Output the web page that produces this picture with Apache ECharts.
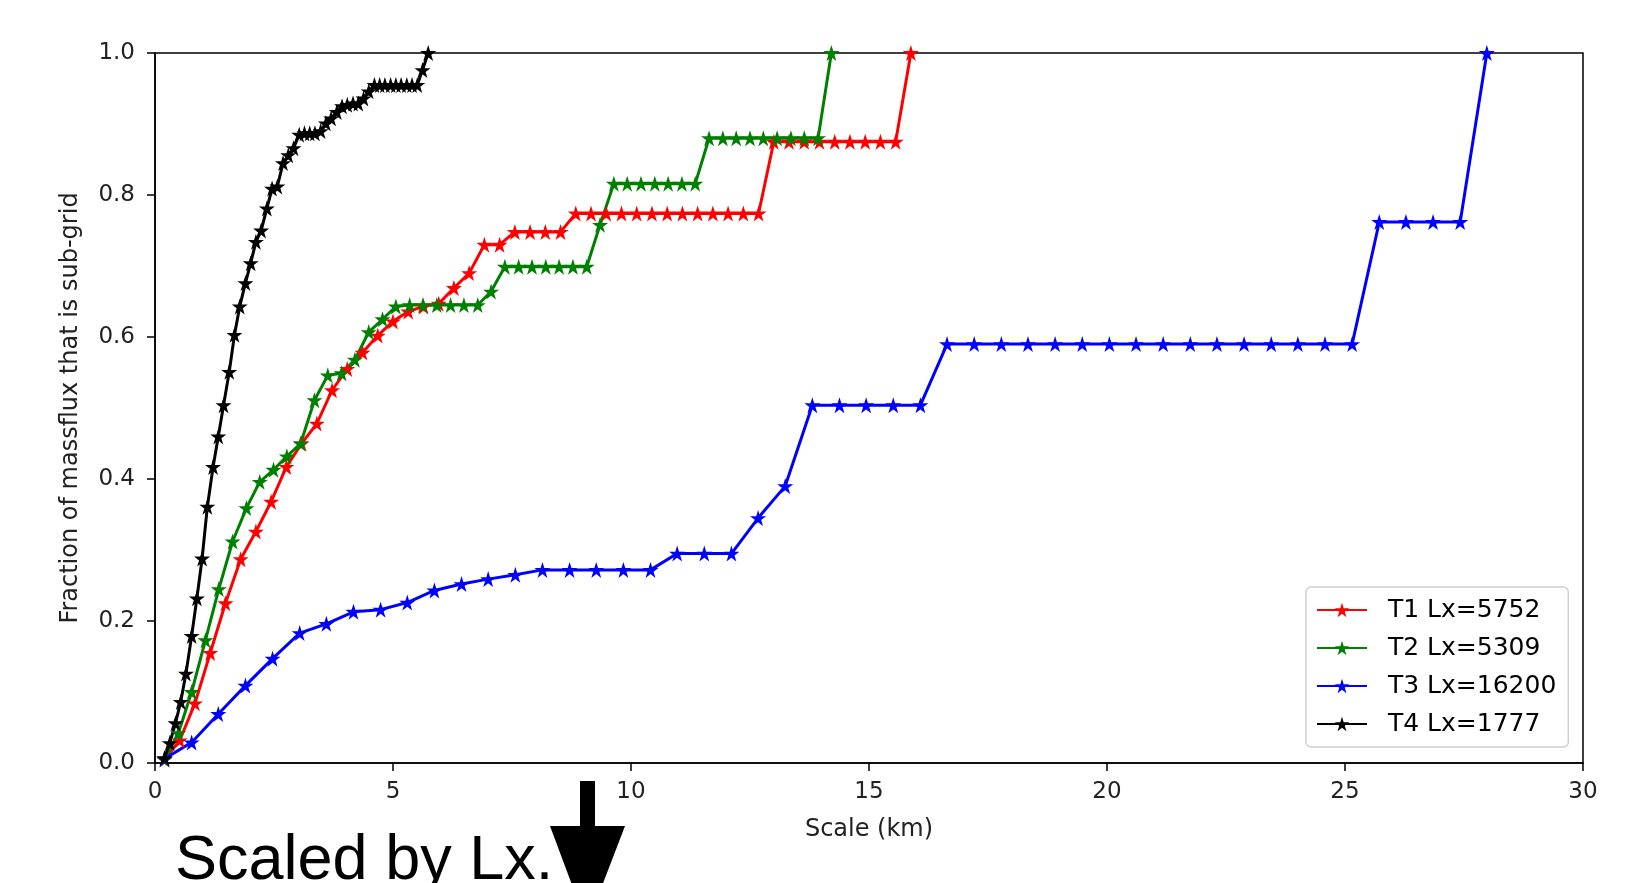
<!DOCTYPE html>
<html>
<head>
<meta charset="utf-8">
<script src="https://cdn.jsdelivr.net/npm/echarts@6/dist/echarts.min.js"></script>
<style>
  html, body { margin: 0; padding: 0; background: #fff; }
  #main { width: 1635px; height: 883px; }
</style>
</head>
<body>
<div id="main"></div>
<script>
// x-axis and y-axis ticks
const xTicks = [0, 5, 10, 15, 20, 25, 30];
const yTicks = [0.0, 0.2, 0.4, 0.6, 0.8, 1.0];

const seriesNames = ['T1 Lx=5752', 'T2 Lx=5309', 'T3 Lx=16200', 'T4 Lx=1777'];
const seriesColors = ['#ff0000', '#008000', '#0000ff', '#000000'];

// T1 (red)
const t1X = [0.20, 0.52, 0.84, 1.16, 1.48, 1.80, 2.12, 2.44, 2.76, 3.08,
  3.40, 3.72, 4.04, 4.36, 4.68, 5.00, 5.32, 5.64, 5.96, 6.28,
  6.60, 6.92, 7.24, 7.56, 7.88, 8.20, 8.52, 8.84, 9.16, 9.48,
  9.80, 10.12, 10.44, 10.76, 11.08, 11.40, 11.72, 12.04, 12.36, 12.68,
  13.00, 13.32, 13.64, 13.96, 14.28, 14.60, 14.92, 15.24, 15.56, 15.88];
const t1Y = [0.005, 0.032, 0.084, 0.155, 0.225, 0.287, 0.326, 0.368, 0.417, 0.450,
  0.478, 0.525, 0.555, 0.578, 0.602, 0.622, 0.636, 0.643, 0.647, 0.669,
  0.690, 0.730, 0.730, 0.748, 0.748, 0.748, 0.748, 0.774, 0.774, 0.774,
  0.774, 0.774, 0.774, 0.774, 0.774, 0.774, 0.774, 0.774, 0.774, 0.774,
  0.875, 0.875, 0.875, 0.875, 0.875, 0.875, 0.875, 0.875, 0.875, 1.0];

// T2 (green)
const t2X = [0.20, 0.49, 0.77, 1.06, 1.34, 1.63, 1.92, 2.20, 2.49, 2.77,
  3.06, 3.35, 3.63, 3.92, 4.20, 4.49, 4.78, 5.06, 5.35, 5.63,
  5.92, 6.21, 6.49, 6.78, 7.06, 7.35, 7.64, 7.92, 8.21, 8.49,
  8.78, 9.07, 9.35, 9.64, 9.92, 10.21, 10.50, 10.78, 11.07, 11.35,
  11.64, 11.93, 12.21, 12.50, 12.78, 13.07, 13.36, 13.64, 13.93, 14.21];
const t2Y = [0.005, 0.042, 0.100, 0.173, 0.245, 0.312, 0.359, 0.396, 0.413, 0.432,
  0.450, 0.511, 0.546, 0.549, 0.568, 0.607, 0.625, 0.643, 0.645, 0.645,
  0.645, 0.645, 0.645, 0.645, 0.664, 0.699, 0.699, 0.699, 0.699, 0.699,
  0.699, 0.699, 0.758, 0.816, 0.816, 0.816, 0.816, 0.816, 0.816, 0.816,
  0.880, 0.880, 0.880, 0.880, 0.880, 0.880, 0.880, 0.880, 0.880, 1.0];

// T3 (blue)
const t3X = [0.20, 0.77, 1.33, 1.90, 2.47, 3.04, 3.60, 4.17, 4.74, 5.30,
  5.87, 6.44, 7.00, 7.57, 8.14, 8.71, 9.27, 9.84, 10.41, 10.97,
  11.54, 12.11, 12.67, 13.24, 13.81, 14.38, 14.94, 15.51, 16.08, 16.64,
  17.21, 17.78, 18.34, 18.91, 19.48, 20.05, 20.61, 21.18, 21.75, 22.31,
  22.88, 23.45, 24.01, 24.58, 25.15, 25.72, 26.28, 26.85, 27.42, 27.98];
const t3Y = [0.006, 0.029, 0.069, 0.109, 0.147, 0.183, 0.196, 0.213, 0.216, 0.226,
  0.243, 0.252, 0.259, 0.265, 0.272, 0.272, 0.272, 0.272, 0.272, 0.295,
  0.295, 0.295, 0.345, 0.390, 0.504, 0.504, 0.504, 0.504, 0.504, 0.590,
  0.590, 0.590, 0.590, 0.590, 0.590, 0.590, 0.590, 0.590, 0.590, 0.590,
  0.590, 0.590, 0.590, 0.590, 0.590, 0.762, 0.762, 0.762, 0.762, 1.0];

// T4 (black)
const t4X = [0.20, 0.31, 0.43, 0.54, 0.65, 0.77, 0.88, 0.99, 1.10, 1.22,
  1.33, 1.44, 1.56, 1.67, 1.78, 1.90, 2.01, 2.12, 2.23, 2.35,
  2.46, 2.57, 2.69, 2.80, 2.91, 3.03, 3.14, 3.25, 3.36, 3.48,
  3.59, 3.70, 3.82, 3.93, 4.04, 4.16, 4.27, 4.38, 4.49, 4.61,
  4.72, 4.83, 4.95, 5.06, 5.17, 5.29, 5.40, 5.51, 5.62, 5.74];
const t4Y = [0.007, 0.028, 0.056, 0.086, 0.126, 0.179, 0.232, 0.288, 0.361, 0.417,
  0.460, 0.504, 0.551, 0.603, 0.643, 0.676, 0.704, 0.734, 0.750, 0.781,
  0.809, 0.812, 0.845, 0.856, 0.866, 0.885, 0.887, 0.887, 0.887, 0.890,
  0.901, 0.908, 0.917, 0.925, 0.927, 0.929, 0.929, 0.936, 0.946, 0.955,
  0.955, 0.955, 0.955, 0.955, 0.955, 0.955, 0.955, 0.955, 0.976, 1.0];

const allX = [t1X, t2X, t3X, t4X];
const allY = [t1Y, t2Y, t3Y, t4Y];

// matplotlib-like '*' marker
const star = 'path://M50 0 L61.2 34.5 L97.6 34.5 L68.2 55.9 L79.4 90.5 L50 69.1 L20.6 90.5 L31.8 55.9 L2.4 34.5 L38.8 34.5 Z';

const font = 'DejaVu Sans';

const chart = echarts.init(document.getElementById('main'));

const series = seriesNames.map((name, i) => ({
  name: name,
  type: 'line',
  data: allX[i].map((x, j) => [x, allY[i][j]]),
  symbol: star,
  symbolSize: 16,
  showSymbol: true,
  lineStyle: { width: 3, color: seriesColors[i] },
  itemStyle: { color: seriesColors[i] },
  emphasis: { disabled: true },
  animation: false
}));

const option = {
  backgroundColor: '#fff',
  animation: false,
  grid: {
    left: 155, right: 52, top: 53, bottom: 120,
    show: true, borderColor: '#000', borderWidth: 1.5
  },
  legend: {
    orient: 'vertical',
    left: 1306, top: 587,
    padding: [9, 12, 9, 10],
    itemWidth: 50, itemHeight: 18, itemGap: 10,
    backgroundColor: 'rgba(255,255,255,0.8)',
    borderColor: '#d0d0d0', borderWidth: 1.5, borderRadius: 5,
    textStyle: { fontFamily: font, fontSize: 25, color: '#000', lineHeight: 28, padding: [0, 0, 0, 16] },
    data: seriesNames
  },
  xAxis: {
    type: 'value',
    min: xTicks[0], max: xTicks[xTicks.length - 1], interval: 5,
    name: 'Scale (km)', nameLocation: 'middle', nameGap: 55,
    nameTextStyle: { fontFamily: font, fontSize: 24, color: '#222' },
    axisLine: { show: true, lineStyle: { color: '#000', width: 1.5 } },
    axisTick: { show: true, length: 8, lineStyle: { color: '#000', width: 1.5 } },
    axisLabel: { fontFamily: font, fontSize: 23, color: '#222', margin: 18 },
    splitLine: { show: false }
  },
  yAxis: {
    type: 'value',
    min: yTicks[0], max: yTicks[yTicks.length - 1], interval: 0.2,
    name: 'Fraction of massflux that is sub-grid', nameLocation: 'middle', nameGap: 72,
    nameTextStyle: { fontFamily: font, fontSize: 24, color: '#222' },
    axisLine: { show: true, lineStyle: { color: '#000', width: 1.5 } },
    axisTick: { show: true, length: 8, lineStyle: { color: '#000', width: 1.5 } },
    axisLabel: { fontFamily: font, fontSize: 23, color: '#222', margin: 20, formatter: v => v.toFixed(1) },
    splitLine: { show: false }
  },
  graphic: [
    {
      type: 'text', left: 175, top: 830,
      style: { text: 'Scaled by Lx.', font: '63px "Liberation Sans"', fill: '#000' }
    },
    {
      type: 'rect', shape: { x: 580, y: 781, width: 15, height: 48 },
      style: { fill: '#000' }
    },
    {
      type: 'polygon', shape: { points: [[550, 826], [625, 826], [587, 925]] },
      style: { fill: '#000' }
    }
  ],
  series: series
};

option && chart.setOption(option);
</script>
</body>
</html>
